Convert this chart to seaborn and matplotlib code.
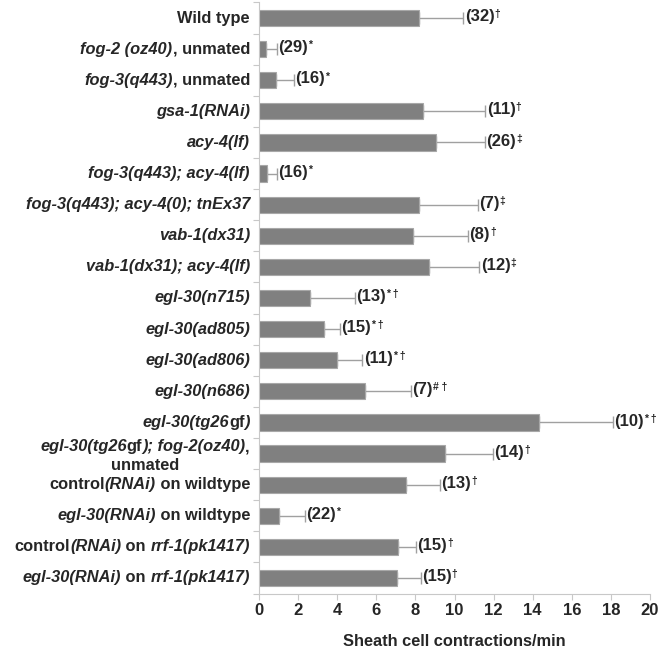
import re
import numpy as np
import pandas as pd
import matplotlib
matplotlib.use("Agg")
import matplotlib.pyplot as plt
import seaborn as sns
from matplotlib.offsetbox import TextArea, HPacker, VPacker, AnnotationBbox

# ---- data ----
labels = [
    "Wild type",
    "{fog-2 (oz40)}, unmated",
    "{fog-3(q443)}, unmated",
    "{gsa-1(RNAi)}",
    "{acy-4(lf)}",
    "{fog-3(q443); acy-4(lf)}",
    "{fog-3(q443); acy-4(0); tnEx37}",
    "{vab-1(dx31)}",
    "{vab-1(dx31); acy-4(lf)}",
    "{egl-30(n715)}",
    "{egl-30(ad805)}",
    "{egl-30(ad806)}",
    "{egl-30(n686)}",
    "{egl-30(tg26}gf{)}",
    "{egl-30(tg26}gf{); fog-2(oz40)},\nunmated",
    "control{(RNAi)} on wildtype",
    "{egl-30(RNAi)} on wildtype",
    "control{(RNAi)} on {rrf-1(pk1417)}",
    "{egl-30(RNAi)} on {rrf-1(pk1417)}",
]
means = [8.2, 0.34, 0.87, 8.4, 9.05, 0.39, 8.2, 7.86, 8.71, 2.61,
         3.32, 4.0, 5.42, 14.34, 9.51, 7.52, 1.02, 7.09, 7.08]
errors = [2.25, 0.56, 0.93, 3.18, 2.5, 0.51, 2.98, 2.84, 2.56, 2.3,
          0.82, 1.29, 2.34, 3.75, 2.47, 1.74, 1.33, 0.94, 1.19]
n_labels = ["(32)", "(29)", "(16)", "(11)", "(26)", "(16)", "(7)", "(8)", "(12)", "(13)",
            "(15)", "(11)", "(7)", "(10)", "(14)", "(13)", "(22)", "(15)", "(15)"]
sig_marks = ["\u2020", "*", "*", "\u2020", "\u2021", "*", "\u2021", "\u2020", "\u2021", "* \u2020",
             "* \u2020", "* \u2020", "# \u2020", "* \u2020", "\u2020", "\u2020", "*", "\u2020", "\u2020"]
x_ticks = [0, 2, 4, 6, 8, 10, 12, 14, 16, 18, 20]
x_label = "Sheath cell contractions/min"

# ---- style ----
sns.set_style("white")
FAM = ["Liberation Sans", "DejaVu Sans"]
plt.rcParams["font.family"] = FAM

df = pd.DataFrame({"key": [f"row{i}" for i in range(len(means))], "mean": means})

fig = plt.figure(figsize=(6.72, 6.52), dpi=100)
ax = fig.add_axes([0.3854, 0.0897, 0.9673 - 0.3854, 0.9962 - 0.0897])

sns.barplot(data=df, x="mean", y="key", orient="h", color="#808080", saturation=1,
            width=0.52, errorbar=None, edgecolor="#a8a8a8", linewidth=0.8, ax=ax)

pos = np.arange(len(means))
ax.errorbar(means, pos, xerr=[np.zeros(len(errors)), errors], fmt="none",
            ecolor="#a0a0a0", elinewidth=1.0, capsize=4, capthick=1.0, zorder=0.5)

ax.set_xlim(0, 20)
ax.set_ylim(len(means) - 0.5, -0.5)
ax.set_xticks(x_ticks)
ax.set_xticklabels([str(t) for t in x_ticks], fontsize=12, fontweight="bold")
ax.set_xlabel(x_label, fontsize=11.8, fontweight="bold", labelpad=11)
ax.set_ylabel("")
ax.set_yticks(pos)
ax.set_yticklabels([])
ax.tick_params(axis="y", which="major", length=0)
ax.set_yticks(np.arange(-0.5, len(means), 1.0), minor=True)
ax.tick_params(axis="y", which="minor", length=4, color="#c8c8c8", width=0.8, direction="out", left=True)
ax.tick_params(axis="x", length=4, color="#c8c8c8", width=0.8, direction="out", bottom=True, pad=3)

for s in ["top", "right"]:
    ax.spines[s].set_visible(False)
for s in ["left", "bottom"]:
    ax.spines[s].set_color("#c8c8c8")
    ax.spines[s].set_linewidth(0.8)

LFS = 11.8


def label_box(text):
    lines = []
    for line in text.split("\n"):
        parts = [p for p in re.split(r"(\{[^}]*\})", line) if p]
        areas = []
        for p in parts:
            it = p.startswith("{")
            t = p[1:-1] if it else p
            areas.append(TextArea(t, textprops=dict(fontsize=LFS, fontweight="bold",
                                                    fontstyle="italic" if it else "normal",
                                                    family=FAM)))
        lines.append(HPacker(children=areas, align="baseline", pad=0, sep=0))
    if len(lines) == 1:
        return lines[0], 0
    return VPacker(children=lines, align="center", pad=0, sep=3), -2


for i, lab in enumerate(labels):
    box, dy = label_box(lab)
    ab = AnnotationBbox(box, (0, i), xycoords="data", xybox=(-6.5, dy),
                        boxcoords="offset points", box_alignment=(1, 0.5),
                        frameon=False, pad=0, annotation_clip=False)
    ax.add_artist(ab)

for i in range(len(means)):
    main = TextArea(n_labels[i], textprops=dict(fontsize=12, fontweight="bold", family=FAM))
    sup = TextArea(sig_marks[i], textprops=dict(fontsize=7.5, fontweight="bold", family=FAM))
    box = HPacker(children=[main, sup], align="top", pad=0, sep=0)
    ab = AnnotationBbox(box, (means[i] + errors[i], i), xycoords="data", xybox=(1.0, 1),
                        boxcoords="offset points", box_alignment=(0, 0.5),
                        frameon=False, pad=0, annotation_clip=False)
    ax.add_artist(ab)

fig.savefig("out.png", dpi=100)
